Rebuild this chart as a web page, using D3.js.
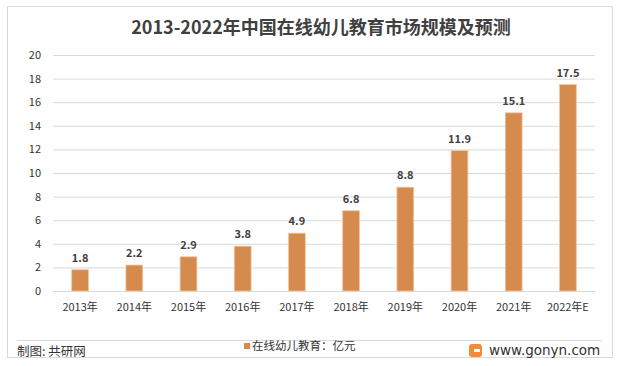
<!DOCTYPE html>
<html><head><meta charset="utf-8">
<script src="https://cdn.jsdelivr.net/npm/d3@7"></script>
<style>body{margin:0;background:#fff}svg{display:block}</style>
</head><body>
<script>
const categories = ["2013年","2014年","2015年","2016年","2017年","2018年","2019年","2020年","2021年","2022年E"];
const values = [1.8,2.2,2.9,3.8,4.9,6.8,8.8,11.9,15.1,17.5];
const yTicks = [0,2,4,6,8,10,12,14,16,18,20];
const title = "2013-2022年中国在线幼儿教育市场规模及预测";
const seriesName = "在线幼儿教育：亿元";

const W = 619, H = 366;
const font = "'Microsoft YaHei','Noto Sans CJK SC','DejaVu Sans',sans-serif";
const svg = d3.select("body").append("svg").attr("width", W).attr("height", H);
svg.append("rect").attr("x",7.5).attr("y",6.5).attr("width",605).attr("height",351)
  .attr("fill","#fff").attr("stroke","#d9d9d9");

const m = {left:53, right:595, top:55, bottom:291};
const x = d3.scaleBand().domain(categories).range([m.left, m.right]).paddingInner(0.69).paddingOuter(0.345);
const y = d3.scaleLinear().domain([0,20]).range([m.bottom, m.top]);

svg.append("text").attr("x",321).attr("y",34).attr("text-anchor","middle")
  .attr("font-family",font).attr("font-weight","bold").attr("font-size",18).attr("fill","#404040").text(title);

const ya = svg.append("g").attr("transform",`translate(${m.left},0)`)
  .call(d3.axisLeft(y).tickValues(yTicks).tickSize(-(m.right-m.left)).tickPadding(12));
ya.select(".domain").remove();
ya.selectAll("line").attr("stroke","#d9d9d9");
ya.selectAll("text").attr("font-family",font).attr("font-size",11).attr("fill","#333");

const xa = svg.append("g").attr("transform",`translate(0,${m.bottom})`)
  .call(d3.axisBottom(x).tickSize(0).tickPadding(12));
xa.select(".domain").attr("stroke","#d9d9d9");
xa.selectAll("text").attr("font-family",font).attr("font-size",11).attr("fill","#333");

svg.selectAll("rect.bar").data(values).join("rect").attr("class","bar")
  .attr("x",(d,i)=>x(categories[i])).attr("width",x.bandwidth())
  .attr("y",d=>y(d)).attr("height",d=>y(0)-y(d))
  .attr("fill","#d58b4d").attr("stroke","#f0c8a0").attr("stroke-width",0.8);

svg.selectAll("text.val").data(values).join("text").attr("class","val")
  .attr("x",(d,i)=>x(categories[i])+x.bandwidth()/2).attr("y",d=>y(d)-8)
  .attr("text-anchor","middle").attr("font-family",font).attr("font-weight","bold")
  .attr("font-size",11).attr("fill","#404040").text(d=>d.toFixed(1));

svg.append("line").attr("x1",17).attr("x2",602).attr("y1",340.5).attr("y2",340.5).attr("stroke","#d9d9d9");

svg.append("rect").attr("x",244).attr("y",343).attr("width",6).attr("height",6).attr("fill","#d58b4d");
svg.append("text").attr("x",252).attr("y",350).attr("font-family",font).attr("font-size",11.5).attr("fill","#333").text(seriesName);

svg.append("text").attr("x",17).attr("y",356).attr("font-family",font).attr("font-size",12.5).attr("fill","#333").text("制图: 共研网");

const lg = svg.append("g").attr("transform","translate(469,340)");
lg.append("rect").attr("x",0).attr("y",4).attr("width",13).attr("height",13).attr("rx",3).attr("fill","#f28a3a");
lg.append("rect").attr("x",5).attr("y",9).attr("width",6).attr("height",3).attr("fill","#fff");
svg.append("text").attr("x",489).attr("y",355).attr("font-family","'DejaVu Sans',sans-serif").attr("font-size",13.5).attr("fill","#333").text("www.gonyn.com");
</script>
</body></html>
